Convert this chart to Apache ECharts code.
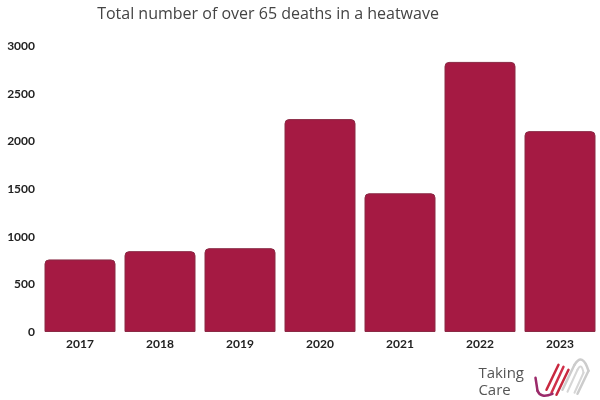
<!DOCTYPE html>
<html>
<head>
<meta charset="utf-8">
<script src="https://cdn.jsdelivr.net/npm/echarts@6/dist/echarts.min.js"></script>
<style>
  html, body { margin: 0; padding: 0; background: #fff; }
  #main { width: 600px; height: 400px; }
</style>
</head>
<body>
<div id="main"></div>
<script>
var years = ["2017", "2018", "2019", "2020", "2021", "2022", "2023"];
var deaths = [761, 848, 879, 2233, 1455, 2833, 2107];
var yTicks = [0, 500, 1000, 1500, 2000, 2500, 3000];

var chartDom = document.getElementById("main");
var myChart = echarts.init(chartDom);
var option;

function stroke(c, w) {
  return { stroke: c, lineWidth: w, fill: null, lineCap: "round" };
}

option = {
  animation: false,
  title: {
    text: "Total number of over 65 deaths in a heatwave",
    left: 263,
    top: 1,
    textAlign: "center",
    textStyle: {
      fontFamily: "Open Sans",
      fontSize: 16,
      fontWeight: "normal",
      color: "#444",
    },
  },
  grid: { left: 40, right: 0, top: 46, bottom: 68, containLabel: false },
  xAxis: {
    type: "category",
    data: years,
    axisLine: { show: false },
    axisTick: { show: false },
    axisLabel: {
      margin: 6,
      fontFamily: "Lato",
      fontWeight: "bold",
      fontSize: 12,
      color: "#222",
    },
  },
  yAxis: {
    type: "value",
    min: yTicks[0],
    max: yTicks[yTicks.length - 1],
    interval: 500,
    splitLine: { show: false },
    axisLine: { show: false },
    axisTick: { show: false },
    axisLabel: {
      margin: 5,
      formatter: function (v) { return String(v); },
      fontFamily: "Lato",
      fontWeight: "bold",
      fontSize: 12,
      color: "#222",
    },
  },
  series: [
    {
      type: "bar",
      data: deaths,
      barWidth: 71,
      itemStyle: {
        color: "#a51a43",
        borderColor: "#8a2a45",
        borderWidth: 1,
        borderRadius: [4, 4, 0, 0],
      },
    },
  ],
  graphic: [
    {
      type: "text",
      right: 76,
      top: 365,
      style: {
        text: "Taking\nCare",
        align: "right",
        fontFamily: "Open Sans",
        fontSize: 15,
        lineHeight: 17,
        fill: "#555",
      },
    },
    {
      // logo: stylised hand
      type: "group",
      left: 533,
      top: 357,
      children: [
        { type: "line", shape: { x1: 30, y1: 34, x2: 42, y2: 9 }, style: stroke("#cccccc", 2.5) },
        { type: "bezierCurve", shape: { x1: 42, y1: 9, cpx1: 50, cpy1: -4, x2: 56, y2: 15 }, style: stroke("#cccccc", 2.5) },
        { type: "line", shape: { x1: 56, y1: 15, x2: 45, y2: 38 }, style: stroke("#cccccc", 2.5) },
        { type: "line", shape: { x1: 35, y1: 36, x2: 45, y2: 14 }, style: stroke("#d6d6d6", 2) },
        { type: "bezierCurve", shape: { x1: 45, y1: 14, cpx1: 49, cpy1: 6, x2: 51, y2: 17 }, style: stroke("#d6d6d6", 2) },
        { type: "line", shape: { x1: 51, y1: 17, x2: 42, y2: 37 }, style: stroke("#d6d6d6", 2) },
        { type: "line", shape: { x1: 14, y1: 34, x2: 26, y2: 9 }, style: stroke("#c8283f", 2.5) },
        { type: "line", shape: { x1: 19, y1: 37, x2: 31, y2: 11 }, style: stroke("#d0304a", 2.5) },
        { type: "line", shape: { x1: 24, y1: 39, x2: 36, y2: 14 }, style: stroke("#c8283f", 2.5) },
        { type: "line", shape: { x1: 3, y1: 22, x2: 5, y2: 35 }, style: stroke("#9b2a6a", 2.5) },
        { type: "bezierCurve", shape: { x1: 5, y1: 35, cpx1: 8, cpy1: 43, x2: 20, y2: 38 }, style: stroke("#9b2a6a", 2.5) },
      ],
    },
  ],
};

option && myChart.setOption(option);
</script>
</body>
</html>
